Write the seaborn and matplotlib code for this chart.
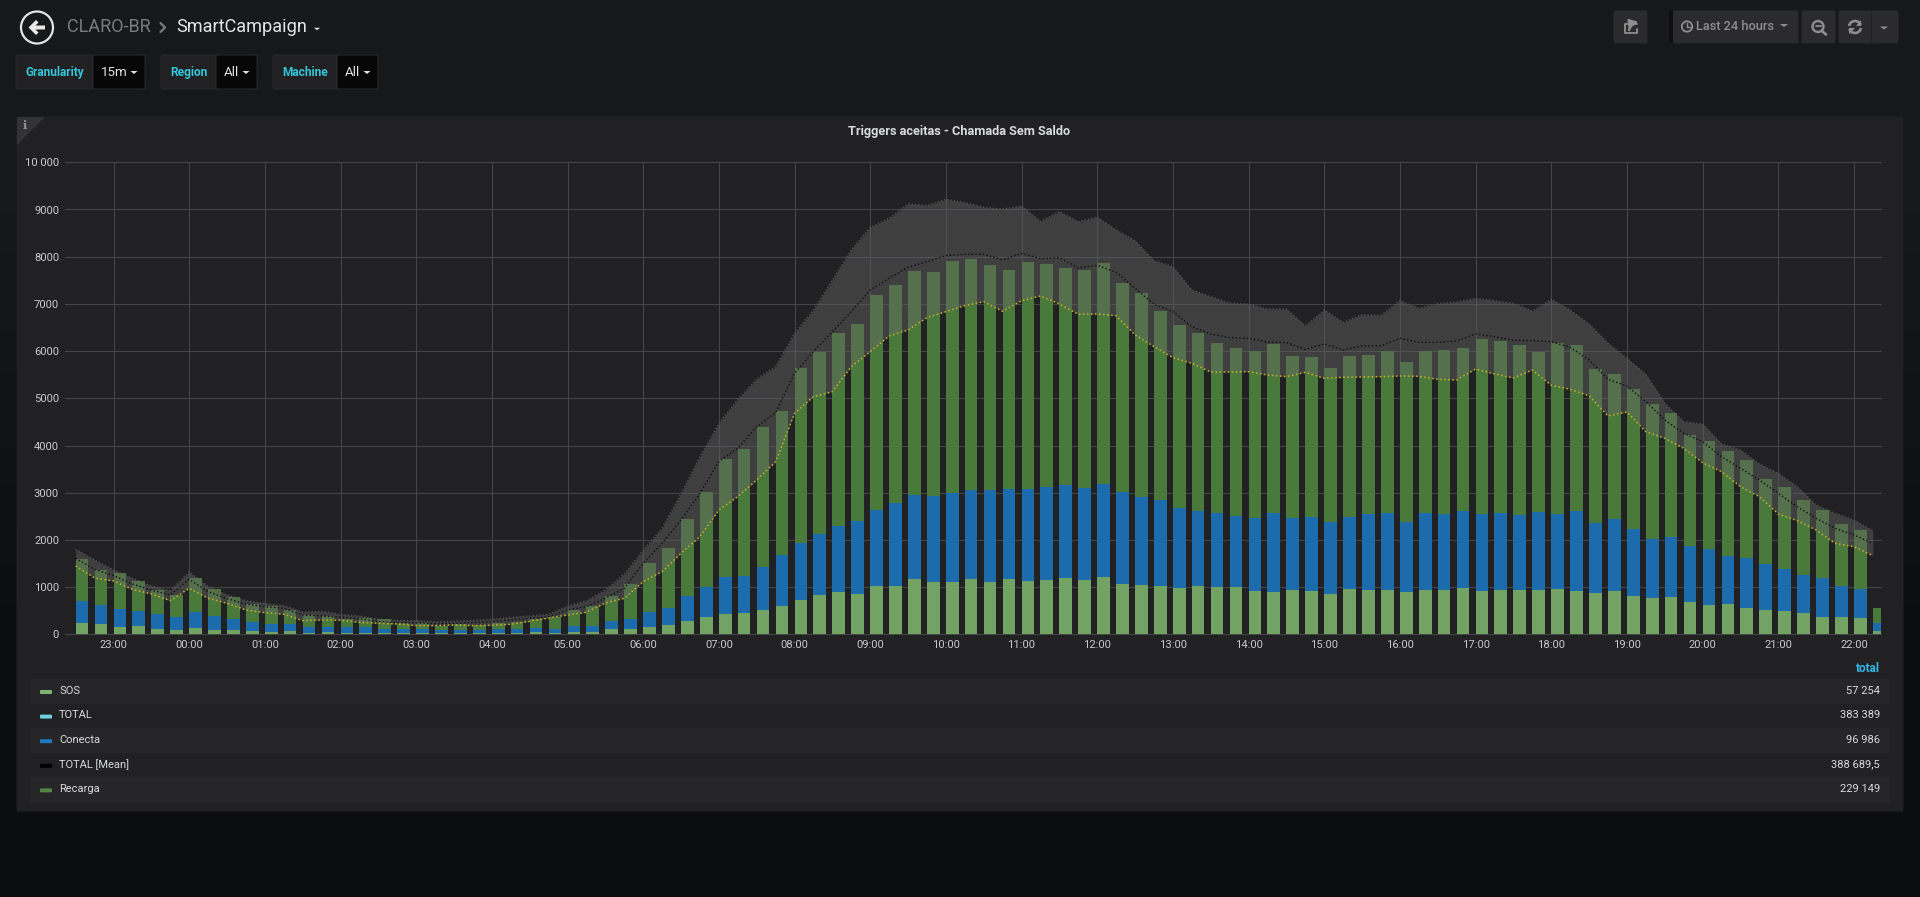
import numpy as np
import pandas as pd
import seaborn as sns
import matplotlib
matplotlib.use('Agg')
import matplotlib.pyplot as plt
from matplotlib.patches import Circle, FancyBboxPatch, Polygon, Rectangle, Arc

# valores, um ponto a cada 15 min comecando em 22:30
sos = [247, 226, 162, 177, 120, 99, 141, 92, 99, 71, 56, 71, 35, 49, 35, 35, 28, 28, 28, 21, 21, 20, 28, 28,
       42, 28, 49, 49, 113, 113, 162, 205, 282, 367, 431, 459, 523, 607, 727, 833, 890, 862, 1031, 1031, 1172, 1116, 1116, 1165,
       1109, 1179, 1137, 1158, 1193, 1151, 1215, 1066, 1045, 1031, 975, 1024, 996, 996, 918, 904, 932, 911, 862, 960, 946, 939,
       904, 946, 946, 982, 918, 946, 932, 946, 953, 925, 883, 925, 819, 763, 784, 685, 621, 636, 551, 523, 487, 445, 374, 360, 339, 71]
conecta = [453, 388, 382, 324, 304, 261, 339, 289, 233, 183, 170, 141, 113, 106, 113, 113, 85, 85, 85, 64, 71, 65, 78, 78,
           92, 92, 135, 135, 162, 212, 318, 360, 530, 643, 777, 784, 911, 1067, 1215, 1300, 1405, 1532, 1596, 1744, 1773, 1815, 1878, 1893,
           1956, 1907, 1949, 1956, 1964, 1942, 1963, 1957, 1858, 1808, 1709, 1596, 1568, 1518, 1554, 1667, 1540, 1568, 1511, 1519, 1610, 1632,
           1483, 1618, 1603, 1624, 1638, 1618, 1596, 1639, 1596, 1681, 1476, 1511, 1406, 1264, 1271, 1179, 1187, 1017, 1059, 967, 897, 812, 812, 671, 629, 162]
recarga = [896, 749, 756, 629, 515, 473, 713, 579, 459, 389, 367, 303, 262, 233, 170, 205, 205, 134, 120, 92, 127, 105, 127, 162,
           184, 240, 332, 423, 544, 741, 1024, 1257, 1624, 1998, 2500, 2691, 2959, 3058, 3708, 3856, 4096, 4174, 4562, 4626, 4760, 4746, 4909, 4887,
           4767, 4633, 4795, 4732, 4604, 4626, 4682, 4428, 4322, 4018, 3870, 3757, 3615, 3552, 3531, 3580, 3418, 3390, 3277, 3418, 3369, 3432,
           3376, 3446, 3475, 3453, 3694, 3651, 3595, 3397, 3630, 3524, 3262, 3079, 2980, 2846, 2627, 2359, 2281, 2238, 2091, 1808, 1745, 1596, 1455, 1314, 1242, 325]
total_max = [1801, 1575, 1363, 1186, 1024, 925, 1321, 1010, 833, 713, 657, 607, 473, 487, 424, 388, 318, 297, 290, 268, 275, 297, 318, 360,
             388, 424, 600, 713, 939, 1278, 1787, 2246, 2987, 3764, 4470, 4979, 5410, 5671, 6377, 6871, 7507, 8150, 8623, 8814, 9117, 9089, 9216, 9145,
             9047, 9011, 9075, 8750, 8955, 8743, 8842, 8566, 8340, 7917, 7790, 7295, 7154, 7020, 6992, 6893, 6893, 6532, 6871, 6610, 6773, 6759,
             7069, 6907, 7006, 7041, 7119, 7069, 7013, 6850, 7097, 6871, 6575, 6165, 5847, 5508, 4894, 4506, 4456, 4032, 3905, 3609, 3411, 3128, 2740, 2564, 2422, 2196]
total_mean = [1610, 1377, 1243, 1066, 939, 833, 1165, 904, 756, 643, 586, 551, 410, 388, 360, 332, 268, 247, 240, 226, 233, 247, 268, 304,
              339, 374, 516, 586, 763, 975, 1504, 1928, 2422, 2987, 3659, 3941, 4400, 4696, 5530, 5989, 6412, 6836, 7295, 7542, 7775, 7895, 8023, 8051,
              8051, 7931, 8072, 7959, 7980, 7761, 7818, 7669, 7331, 6992, 6836, 6518, 6363, 6285, 6271, 6194, 6179, 6038, 6151, 6024, 6109, 6109,
              6271, 6186, 6186, 6215, 6363, 6306, 6229, 6222, 6200, 6081, 5812, 5403, 5261, 4929, 4541, 4258, 4082, 3764, 3517, 3270, 2987, 2705, 2458, 2246, 2105, 1928]
total_min = [1448, 1193, 1130, 953, 855, 713, 975, 763, 657, 516, 459, 424, 290, 304, 297, 254, 233, 219, 184, 184, 198, 184, 191, 212,
             275, 346, 410, 466, 664, 763, 1116, 1328, 1716, 2069, 2634, 2917, 3270, 3658, 4682, 5035, 5141, 5671, 5989, 6321, 6448, 6709, 6836, 6963,
             7048, 6843, 7069, 7168, 6999, 6780, 6787, 6751, 6342, 6095, 5862, 5742, 5558, 5558, 5565, 5494, 5459, 5551, 5424, 5445, 5452, 5459,
             5473, 5466, 5403, 5388, 5621, 5516, 5431, 5600, 5275, 5191, 5056, 4626, 4711, 4294, 4153, 3941, 3637, 3446, 3129, 2917, 2549, 2408, 2210, 1928, 1857, 1667]

horas = ['23:00', '00:00', '01:00', '02:00', '03:00', '04:00', '05:00', '06:00', '07:00', '08:00', '09:00', '10:00',
         '11:00', '12:00', '13:00', '14:00', '15:00', '16:00', '17:00', '18:00', '19:00', '20:00', '21:00', '22:00']
y_ticks = [0, 1000, 2000, 3000, 4000, 5000, 6000, 7000, 8000, 9000, 10000]
y_labels = ['0', '1000', '2000', '3000', '4000', '5000', '6000', '7000', '8000', '9000', '10 000']
legenda_nomes = ['SOS', 'TOTAL', 'Conecta', 'TOTAL [Mean]', 'Recarga']
legenda_cores = ['#7eb26d', '#6ed0e0', '#1f78c1', '#000000', '#508642']
legenda_totais = ['57 254', '383 389', '96 986', '388 689,5', '229 149']

sns.set_theme(style='dark')
plt.rcParams['font.family'] = ['Roboto', 'DejaVu Sans']

W, H = 1920, 897
TEXTO = '#d8d9da'
fig = plt.figure(figsize=(W / 100, H / 100), dpi=100)

# parte de fora do grafico, em pixels
bg = fig.add_axes([0, 0, 1, 1], zorder=0)
gradiente = np.array([[[0x17, 0x18, 0x1a]], [[0x0c, 0x0d, 0x0f]]], dtype=np.uint8)
bg.imshow(gradiente, extent=[0, W, 860, 0], aspect='auto', interpolation='bilinear')
bg.add_patch(Rectangle((0, 860), W, 40, color='#0c0d0f'))
bg.set_xlim(0, W)
bg.set_ylim(H, 0)
bg.axis('off')


def caixa(x0, y0, x1, y1, cor, borda=None):
    bg.add_patch(FancyBboxPatch((x0, y0), x1 - x0, y1 - y0, boxstyle='round,pad=0,rounding_size=2',
                                fc=cor, ec=borda if borda else cor, lw=0.7))


def seta(x, y, cor, w=3.5, h=3):
    bg.add_patch(Polygon([(x - w, y - h / 2), (x + w, y - h / 2), (x, y + h / 2)], color=cor, lw=0))


# painel
caixa(17, 117, 1903, 811, '#212124')
bg.add_patch(Polygon([(17, 117), (45, 117), (17, 145)], color='#333336', lw=0))
bg.text(25, 125.5, 'i', color='#9a9a9a', fontsize=8, family='DejaVu Serif', weight='bold', ha='center', va='center')
bg.text(959.5, 131, 'Triggers aceitas - Chamada Sem Saldo', color=TEXTO, fontsize=9.2, weight='bold', ha='center', va='center')

# cabecalho
bg.add_patch(Circle((37, 27.5), 16, fc='none', ec='#e4e4e4', lw=1.6))
bg.add_patch(Polygon([(28.5, 27.5), (36, 20), (38.5, 22.5), (35.5, 25.5), (45, 25.5), (45, 29.5), (35.5, 29.5), (38.5, 32.5), (36, 35)],
                     color='#e8e8e8', lw=0))
bg.text(67, 27, 'CLARO-BR', color='#7b7b7b', fontsize=13, va='center')
bg.plot([160.5, 165, 160.5], [23, 27.5, 32], color='#7b7b7b', lw=1.6)
bg.text(176, 27, 'SmartCampaign', color='#e4e4e4', fontsize=13.1, va='center')
seta(317, 29, '#d8d9da', 3.2, 2.5)

# variaveis do template
for x0, x1, x2, rotulo, valor in [(16, 93, 145, 'Granularity', '15m'), (161, 216, 257, 'Region', 'All'), (273, 337, 378, 'Machine', 'All')]:
    caixa(x0, 55, x1, 89, '#212124', '#2a2a2c')
    caixa(x1, 55, x2, 89, '#070708', '#2a2a2c')
    bg.text((x0 + x1) / 2, 72.5, rotulo, color='#33c5d8', fontsize=8.6, weight='bold', ha='center', va='center')
    bg.text(x1 + 8, 73, valor, color='#e4e4e4', fontsize=9.6, va='center')
    seta(x2 - 11, 72.5, '#e4e4e4')

# botoes da direita
CINZA = '#2b2b2d'
ICONE = '#8e8e8e'
for x0, x1 in [(1614, 1647), (1673, 1798), (1802, 1835), (1839, 1898)]:
    caixa(x0, 11, x1, 43, CINZA)
bg.add_patch(Rectangle((1669, 11), 4, 32, color='#0e0f10', lw=0))
bg.plot([1871, 1871], [11, 43], color='#212124', lw=0.8)
bg.plot([1637, 1625, 1625, 1637, 1637], [24, 24, 33, 33, 29], color=ICONE, lw=1.3)
bg.annotate('', xy=(1638.5, 22), xytext=(1629, 30), arrowprops=dict(arrowstyle='-|>', color=ICONE, lw=1.8, connectionstyle='arc3,rad=-0.3', shrinkA=0, shrinkB=0))
bg.add_patch(Circle((1687, 26.5), 5.2, fc='none', ec=ICONE, lw=1.3))
bg.plot([1687, 1687, 1690], [23.5, 27, 27], color=ICONE, lw=1)
bg.text(1696.5, 27, 'Last 24 hours', color=ICONE, fontsize=9.2, weight='medium', va='center')
seta(1784, 25.5, ICONE, 4, 3)
bg.add_patch(Circle((1818, 26.5), 5.5, fc='none', ec=ICONE, lw=1.7))
bg.plot([1822, 1826], [31, 34.5], color=ICONE, lw=2)
bg.plot([1815.5, 1820.5], [26.5, 26.5], color=ICONE, lw=1.3)
bg.add_patch(Arc((1855, 27), 12, 12, theta1=190, theta2=340, color=ICONE, lw=1.9))
bg.add_patch(Arc((1855, 27), 12, 12, theta1=10, theta2=160, color=ICONE, lw=1.9))
bg.add_patch(Polygon([(1861, 20), (1861, 26), (1855.5, 26)], color=ICONE, lw=0))
bg.add_patch(Polygon([(1849, 34), (1849, 28), (1854.5, 28)], color=ICONE, lw=0))
seta(1884, 28, ICONE, 4, 3)

# legenda em tabela
bg.text(1880, 669, 'total', color='#33b5e5', fontsize=8.5, weight='bold', ha='right', va='center')
for i in range(5):
    y0 = 679 + i * 24.6
    if i % 2 == 0:
        bg.add_patch(Rectangle((30, y0), 1860, 24.6, color='#262628', lw=0))
    bg.add_patch(FancyBboxPatch((40, y0 + 11), 12, 4, boxstyle='round,pad=0,rounding_size=1', color=legenda_cores[i], lw=0))
    bg.text(59, y0 + 11.5, legenda_nomes[i], color=TEXTO, fontsize=8, va='center')
    bg.text(1880, y0 + 11.5, legenda_totais[i], color=TEXTO, fontsize=8, ha='right', va='center')

# grafico
x_esq, x_dir, y_topo, y_base = 65, 1881, 162.3, 634.3
ax = fig.add_axes([x_esq / W, 1 - y_base / H, (x_dir - x_esq) / W, (y_base - y_topo) / H], zorder=1)
ax.patch.set_alpha(0)

t = 0.5 + 0.25 * np.arange(len(sos))
df = pd.DataFrame({'hora': t, 'SOS': sos, 'Conecta': conecta, 'Recarga': recarga})
longo = df.melt(id_vars='hora', var_name='serie', value_name='valor')
bordas = np.append(t, t[-1] + 0.25) + 0.084 - 0.125

cores = {'SOS': '#72a264', 'Conecta': '#1c6bad', 'Recarga': '#4a7a3b'}
sns.histplot(data=longo, x='hora', weights='valor', hue='serie', hue_order=['Recarga', 'Conecta', 'SOS'],
             multiple='stack', bins=bordas.tolist(), shrink=0.67, alpha=1, linewidth=0, palette=cores, legend=False, ax=ax, zorder=2)

ax.fill_between(t, total_min, total_max, color='#646464', alpha=0.45, lw=0, zorder=3)
sns.lineplot(x=t, y=total_max, color='#58585a', lw=0.9, linestyle=':', ax=ax, legend=False, zorder=4)
sns.lineplot(x=t, y=total_mean, color='#0c0c0c', lw=1, linestyle=':', ax=ax, legend=False, zorder=4)
sns.lineplot(x=t, y=total_min, color='#c9b51f', lw=1.1, linestyle=':', ax=ax, legend=False, zorder=4)

ax.set_xlim((x_esq - 37.83) / 75.67, (x_dir - 37.83) / 75.67)
ax.set_ylim(0, 10000)
ax.set_xticks(np.arange(1, 25), labels=horas)
ax.set_yticks(y_ticks, labels=y_labels)
ax.set_xlabel('')
ax.set_ylabel('')
ax.set_axisbelow(True)
ax.grid(True, color='#454547', lw=0.8)
for g in ax.get_xgridlines() + ax.get_ygridlines():
    g.set_clip_on(False)
ax.tick_params(length=0, colors='#c8c8ca', labelsize=8.1)
ax.tick_params(axis='x', pad=4)
ax.tick_params(axis='y', pad=4.3)
sns.despine(ax=ax, left=True, bottom=True)

fig.savefig('out.png', dpi=100, facecolor='#161719')
